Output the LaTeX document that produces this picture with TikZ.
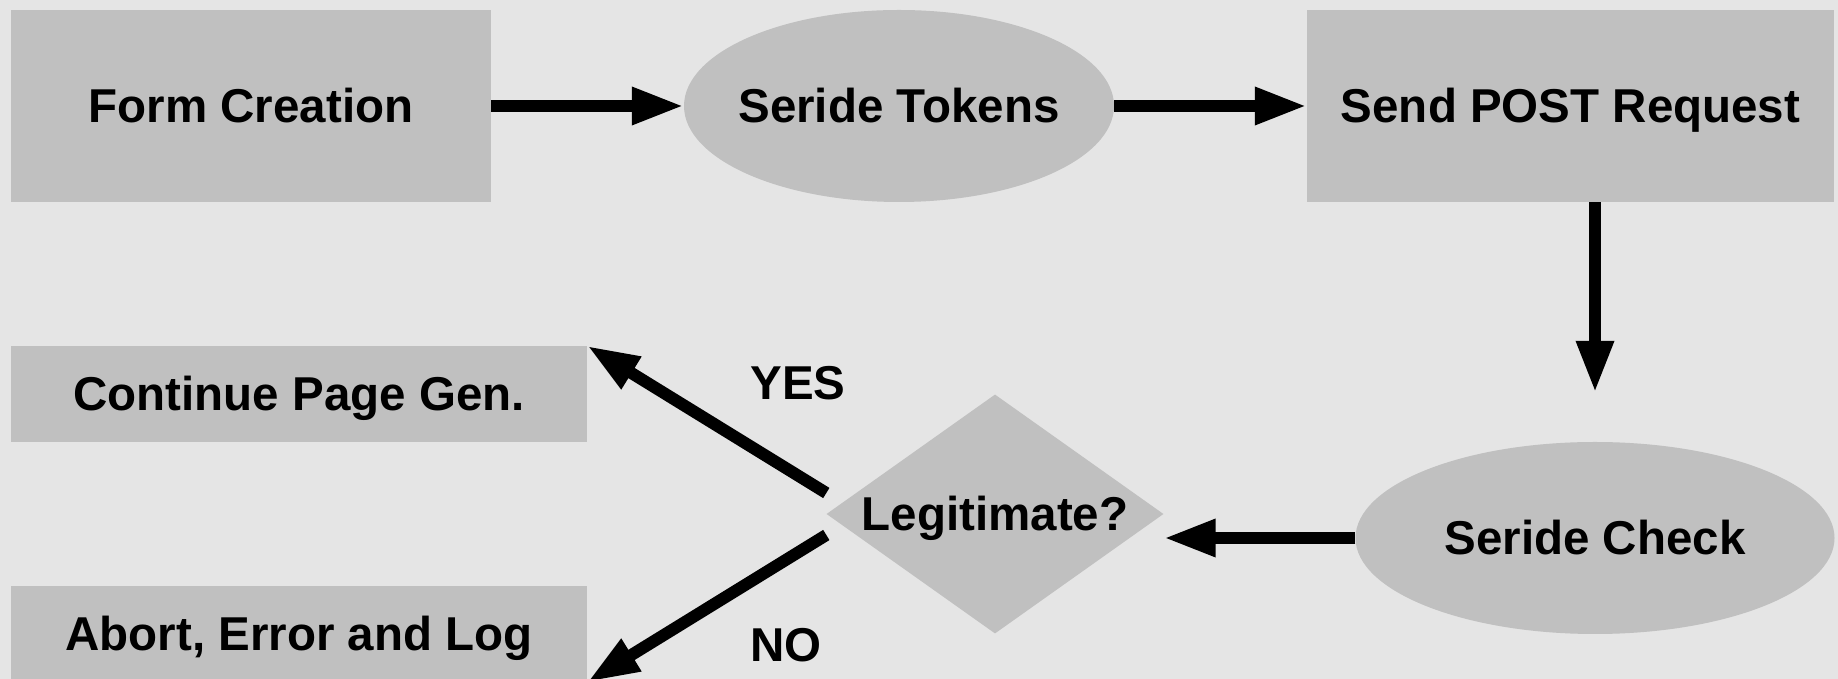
\documentclass[tikz,border=0pt]{standalone}
\usepackage{fontspec}
\setmainfont{Liberation Sans}
\usetikzlibrary{shapes.geometric,arrows.meta}
\definecolor{bg}{HTML}{E5E5E5}
\definecolor{box}{HTML}{C0C0C0}
\tikzset{
  lbl/.style={font=\fontsize{47.5}{56}\selectfont\bfseries, text height=34pt, text depth=0pt, inner sep=0pt},
  rectbox/.style={lbl, rectangle, fill=box, draw=none},
  ellbox/.style={lbl, ellipse, fill=box, draw=none},
  decbox/.style={lbl, diamond, aspect=1.41, fill=box, draw=none},
  conn/.style={line width=12pt, -{Triangle[length=52pt,width=35pt]}}
}
\begin{document}
\begin{tikzpicture}[x=1pt,y=1pt]
\useasboundingbox (0,0) rectangle (1838,679);
\fill[bg] (0,0) rectangle (1838,679);
\clip (0,0) rectangle (1838,679);
\node[rectbox, minimum width=480pt, minimum height=192pt] (fc) at (251,573) {Form Creation};
\node[ellbox, minimum width=430pt, minimum height=192pt] (st) at (899,573) {\makebox[0pt]{Seride Tokens}};
\node[rectbox, minimum width=527pt, minimum height=192pt] (sp) at (1570.5,573) {Send POST Request};
\node[ellbox, minimum width=479pt, minimum height=192pt] (sc) at (1595,141) {\makebox[0pt]{Seride Check}};
\node[decbox, minimum width=337pt, minimum height=239pt] (lg) at (995,165) {\makebox[0pt]{Legitimate?}};
\node[rectbox, minimum width=576pt, minimum height=96pt] (cont) at (299,285) {Continue Page Gen.};
\node[rectbox, minimum width=576pt, minimum height=96pt] (ab) at (299,45) {Abort, Error and Log};
\node[lbl] (yes) at (798,296) {YES};
\node[lbl] (no) at (786,34) {NO};
\draw[conn] (fc.east) -- (st.west);
\draw[conn] (st.east) -- (sp.west);
\draw[conn, shorten >=49pt] (sc.north |- sp.south) -- (sc.north);
\draw[conn] (sc.west) -- (sc.west -| lg.east);
\draw[conn] ([yshift=21pt]lg.west) -- (cont.north east);
\draw[conn] ([yshift=-21pt]lg.west) -- (ab.south east);
\end{tikzpicture}
\end{document}
